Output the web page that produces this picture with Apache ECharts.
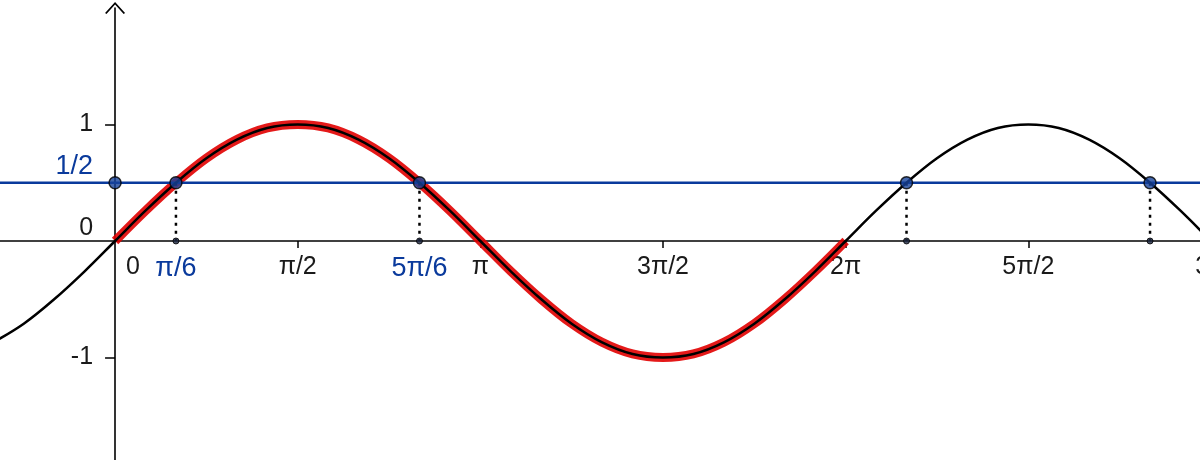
<!DOCTYPE html>
<html>
<head>
<meta charset="utf-8">
<script src="https://cdn.jsdelivr.net/npm/echarts@6/dist/echarts.min.js"></script>
<style>
  html, body { margin: 0; padding: 0; background: #fff; }
  #main { width: 1200px; height: 460px; }
</style>
</head>
<body>
<div id="main"></div>
<script>
// angle in degrees
var angles = [-60, -45, -30, -15, 0, 15, 30, 45, 60, 75, 90, 105, 120, 135, 150, 165, 180,
  195, 210, 225, 240, 255, 270, 285, 300, 315, 330, 345, 360, 375, 390, 405, 420, 435, 450,
  465, 480, 495, 510, 525, 540, 555];
var values = [-0.87, -0.71, -0.5, -0.26, 0, 0.26, 0.5, 0.71, 0.87, 0.97, 1, 0.97, 0.87, 0.71, 0.5, 0.26, 0,
  -0.26, -0.5, -0.71, -0.87, -0.97, -1, -0.97, -0.87, -0.71, -0.5, -0.26, 0, 0.26, 0.5, 0.71, 0.87, 0.97, 1,
  0.97, 0.87, 0.71, 0.5, 0.26, 0, -0.26];

// red highlighted part of the curve
var redFrom = 0, redTo = 360;

// horizontal line y = 1/2 and its crossings
var halfLevel = 0.5;
var crossAngles = [30, 150, 390, 510];

// tick labels
var xTickVals = [0, 30, 90, 150, 180, 270, 360, 450, 540];
var xTickLabels = ['0', 'π/6', 'π/2', '5π/6', 'π', '3π/2', '2π', '5π/2', '3π'];
var xBlue = ['π/6', '5π/6'];
var xTickMarks = [90, 180, 270, 360, 450, 540];
var yTickVals = [1, 0.5, 0, -1];
var yTickLabels = ['1', '1/2', '0', '-1'];
var yTickMarks = [1, -1];

var BLUE = '#0a3a9c';
var FONT = '"Liberation Sans", Arial, sans-serif';

var curve = angles.map(function (a, i) { return [a, values[i]]; });
var redPart = curve.filter(function (p) { return p[0] >= redFrom && p[0] <= redTo; });

var xMin = -56.7, xMax = 549.4;
var yMin = -1.88, yMax = 2.0;

var series = [
  {
    name: 'red', type: 'line', data: redPart, smooth: 0.35, symbol: 'none', z: 2,
    lineStyle: { color: 'rgba(225,0,0,0.9)', width: 9 }
  },
  {
    name: 'half', type: 'line', data: [[xMin, halfLevel], [xMax, halfLevel]], symbol: 'none', z: 3,
    lineStyle: { color: BLUE, width: 2.5 }
  },
  {
    name: 'sin', type: 'line', data: curve, smooth: 0.35, symbol: 'none', z: 4,
    lineStyle: { color: '#000', width: 2.5 }
  }
];

crossAngles.forEach(function (a) {
  series.push({
    type: 'line', data: [[a, halfLevel], [a, 0]], symbol: 'none', z: 5,
    lineStyle: { color: '#000', width: 2.5, type: [3, 5] }
  });
});

series.push({
  type: 'scatter', z: 6, symbol: 'circle', symbolSize: 6,
  data: crossAngles.map(function (a) { return [a, 0]; }),
  itemStyle: { color: '#1b2540', borderColor: '#000', borderWidth: 1 }
});
series.push({
  type: 'scatter', z: 7, symbol: 'circle', symbolSize: 12,
  data: [[0, halfLevel]].concat(crossAngles.map(function (a) { return [a, halfLevel]; })),
  itemStyle: { color: '#16429a', borderColor: '#000', borderWidth: 1.5 }
});

var chart = echarts.init(document.getElementById('main'));
var gridTop = 8, gridH = 452, gridW = 1230;
// axes sit where the other axis is zero
var xAxisOffset = -(gridH * (0 - yMin) / (yMax - yMin));
var yAxisOffset = -(gridW * (0 - xMin) / (xMax - xMin));

chart.setOption({
  animation: false,
  backgroundColor: '#fff',
  grid: { left: 0, top: gridTop, width: gridW, height: gridH, outerBoundsMode: 'none', containLabel: false },
  xAxis: {
    type: 'value', min: xMin, max: xMax, position: 'bottom', offset: xAxisOffset,
    axisLine: { onZero: false, lineStyle: { color: '#000', width: 1.6 } },
    axisTick: { show: true, length: 7, customValues: xTickMarks, lineStyle: { color: '#000', width: 1.5 } },
    splitLine: { show: false },
    axisLabel: {
      customValues: xTickVals, margin: 14, hideOverlap: false,
      fontFamily: FONT, fontSize: 25, color: '#1a1a1a',
      formatter: function (v) {
        var t = xTickLabels[xTickVals.indexOf(v)];
        if (v === 0) return '{z|' + t + '}';
        if (xBlue.indexOf(t) >= 0) return '{b|' + t + '}';
        return t;
      },
      rich: {
        b: { color: BLUE, fontSize: 27, fontFamily: FONT },
        z: { color: '#1a1a1a', fontSize: 25, fontFamily: FONT, padding: [0, 0, 0, 36] }
      }
    }
  },
  yAxis: {
    type: 'value', min: yMin, max: yMax, position: 'left', offset: yAxisOffset,
    axisLine: {
      onZero: false, lineStyle: { color: '#000', width: 1.6 },
      symbol: ['none', 'path://M0,11 L10,0 L20,11 L18.6,12 L10,2.6 L1.4,12 Z'],
      symbolSize: [20, 12]
    },
    axisTick: { show: true, length: 10, customValues: yTickMarks, lineStyle: { color: '#000', width: 1.5 } },
    splitLine: { show: false },
    axisLabel: {
      customValues: yTickVals, margin: 22, hideOverlap: false,
      fontFamily: FONT, fontSize: 25, color: '#1a1a1a',
      formatter: function (v) {
        var t = yTickLabels[yTickVals.indexOf(v)];
        if (v === 0.5) return '{b|' + t + '}';
        if (v === 0) return '{z|' + t + '}';
        return t;
      },
      rich: {
        b: { color: BLUE, fontSize: 27, fontFamily: FONT, padding: [0, 0, 32, 0] },
        z: { color: '#1a1a1a', fontSize: 25, fontFamily: FONT, padding: [0, 0, 26, 0] }
      }
    }
  },
  series: series
});
</script>
</body>
</html>
